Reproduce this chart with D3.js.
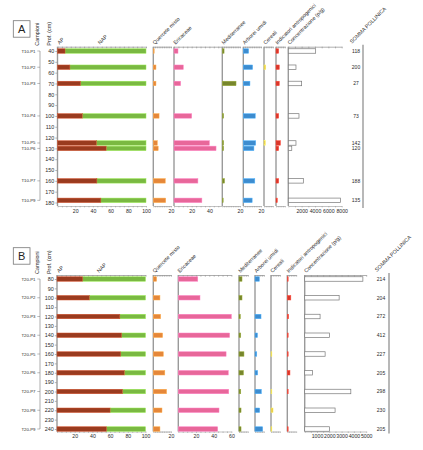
<!DOCTYPE html>
<html>
<head>
<meta charset="utf-8">
<script src="https://cdn.jsdelivr.net/npm/d3@7"></script>
<style>
  body { margin: 0; background: #fff; }
  svg { font-family: "Liberation Sans", Arial, sans-serif; }
</style>
</head>
<body>
<div id="chart"></div>
<script>
// ---- panel A (T10) ----
const samplesA = ["T10-P1", "T10-P2", "T10-P3", "T10-P4", "T10-P5", "T10-P6", "T10-P7", "T10-P9"];
const depthA = [40, 55, 70, 100, 125, 130, 160, 178];
const apA = [8.5, 14, 26, 28, 44, 55, 44.5, 49];
const quercA = [1, 3, 3, 6.5, 4.5, 5.5, 13.5, 14];
const ericA = [4.5, 10.5, 7.5, 20, 40, 47.5, 27, 31.5];
const medA = [2, 0, 15.5, 1.5, 1.5, 1.5, 2.5, 1];
const arbA = [6, 10.5, 7.5, 13.5, 14, 12, 13, 10];
const cerA = [0, 2, 0, 0, 1.5, 0, 0, 0];
const indA = [3, 3.7, 3.7, 3, 5, 3, 3, 1.5];
const concA = [4100, 1150, 2000, 1600, 1150, 520, 2250, 7800];
const sommaA = [118, 200, 27, 73, 142, 120, 188, 135];

// ---- panel B (T20) ----
const samplesB = ["T20-P1", "T20-P2", "T20-P3", "T20-P4", "T20-P5", "T20-P6", "T20-P7", "T20-P8", "T20-P9"];
const depthB = [80, 100, 120, 140, 160, 180, 200, 220, 240];
const apB = [29, 36.5, 71, 73, 72, 76, 74, 60, 56];
const quercB = [3.7, 7.5, 8.3, 10.5, 11.3, 13, 15, 9.8, 7.5];
const ericB = [22, 24.5, 60, 58, 54, 56.5, 57, 46, 44.5];
const medB = [3.4, 3.4, 1.5, 2, 5.6, 5, 2, 2.3, 2.3];
const arbB = [4.9, 0, 6.8, 2.8, 2, 3, 7.2, 5.3, 8.7];
const cerB = [0, 0, 0, 0, 1, 0, 1, 2.3, 1];
const indB = [1, 4, 1.5, 1, 1, 3, 1, 0, 1];
const concB = [4730, 2800, 1250, 2010, 1660, 625, 3750, 2470, 2010];
const sommaB = [214, 204, 272, 412, 227, 205, 298, 230, 205];

const colors = {
  ap: "#9a3b1f", nap: "#7ab942", querc: "#e5873a", eric: "#e8679a",
  med: "#77862c", arb: "#3d8ccf", cer: "#e3c24a", ind: "#d9372b"
};
const pct = 0.885;      // px per percent unit
const barH = 4.5;
const axisColor = "#9a9a9a";
const textColor = "#2a2a2a";

const svg = d3.select("#chart").append("svg")
  .attr("width", 423)
  .attr("height", 450);

const panels = [
  {
    letter: "A", samples: samplesA, depth: depthA, ap: apA, conc: concA, somma: sommaA,
    depthDomain: [40, 180], yRange: [51, 202.5], top: 46.7, bottom: 206,
    apX: 57.5, napLabelX: 100,
    cols: [
      {label: "Quercete misto", values: quercA, color: colors.querc, x0: 153.3, max: 20},
      {label: "Ericaceae", values: ericA, color: colors.eric, x0: 174, max: 54, ticks: [20, 40]},
      {label: "Mediterranee", values: medA, color: colors.med, x0: 222.3, max: 20},
      {label: "Arborei umidi", values: arbA, color: colors.arb, x0: 243.3, max: 20},
      {label: "Cereali", values: cerA, color: colors.cer, x0: 264, max: 10, ticks: []},
      {label: "Indicatori antropogenici", values: indA, color: colors.ind, x0: 276, max: 10, ticks: []}
    ],
    concX: 288.3, concMax: 8000, concW: 53.4, concTicks: [2000, 4000, 6000, 8000], concMinor: 1000,
    sommaX: 356, sommaLine: 363, boxY: 20.7
  },
  {
    letter: "B", samples: samplesB, depth: depthB, ap: apB, conc: concB, somma: sommaB,
    depthDomain: [80, 240], yRange: [279, 429], top: 275, bottom: 431.5,
    apX: 57, napLabelX: 99,
    cols: [
      {label: "Quercete misto", values: quercB, color: colors.querc, x0: 153.3, max: 20},
      {label: "Ericaceae", values: ericB, color: colors.eric, x0: 178.3, max: 60},
      {label: "Mediterranee", values: medB, color: colors.med, x0: 239, max: 10, ticks: []},
      {label: "Arborei umidi", values: arbB, color: colors.arb, x0: 255, max: 10, ticks: []},
      {label: "Cereali", values: cerB, color: colors.cer, x0: 271, max: 10, ticks: []},
      {label: "Indicatori antropogenici", values: indB, color: colors.ind, x0: 287.3, max: 10, ticks: []}
    ],
    concX: 304.7, concMax: 5000, concW: 61.5, concTicks: [1000, 2000, 3000, 4000, 5000], concMinor: 500,
    sommaX: 381, sommaLine: 389, boxY: 247.7
  }
];

panels.forEach(drawPanel);

function header(g, x, yTop, text, size = 5.3) {
  g.append("text")
    .attr("transform", `translate(${x},${yTop}) rotate(-45)`)
    .attr("font-size", size)
    .attr("fill", textColor)
    .text(text);
}

function columnAxes(g, p, x, labels, minorStep) {
  const [x0] = x.range();
  const minor = d3.range(x.domain()[0], x.domain()[1] + 1e-9, minorStep);
  // top axis: dense small ticks
  g.append("g")
    .attr("transform", `translate(0,${p.top})`)
    .call(d3.axisBottom(x).tickValues(minor).tickSize(1.6).tickFormat("").tickSizeOuter(0))
    .call(a => a.selectAll("line,path").attr("stroke", axisColor).attr("stroke-width", 0.8));
  // bottom axis with labels
  const bot = g.append("g")
    .attr("transform", `translate(0,${p.bottom})`)
    .call(d3.axisBottom(x).tickValues(minor).tickSize(1.4).tickSizeOuter(0)
      .tickFormat(d => labels.includes(d) ? d : ""));
  bot.selectAll("line,path").attr("stroke", axisColor).attr("stroke-width", 0.6);
  bot.selectAll("text").attr("font-size", 5.2).attr("fill", textColor).attr("dy", "0.45em");
  // vertical zero line
  g.append("line")
    .attr("x1", x0).attr("x2", x0)
    .attr("y1", p.top).attr("y2", p.bottom)
    .attr("stroke", axisColor).attr("stroke-width", 1.4);
}

function drawPanel(p) {
  const g = svg.append("g");
  const y = d3.scaleLinear().domain(p.depthDomain).range(p.yRange);
  const rows = p.samples.map((s, i) => ({s, d: p.depth[i], i}));

  // panel letter box
  g.append("rect")
    .attr("x", 13.3).attr("y", p.boxY).attr("width", 16.7).attr("height", 16.5)
    .attr("fill", "#fff").attr("stroke", "#777").attr("stroke-width", 0.8);
  g.append("text")
    .attr("x", 21.7).attr("y", p.boxY + 12.3)
    .attr("text-anchor", "middle").attr("font-size", 11).attr("fill", "#222")
    .text(p.letter);

  // vertical titles
  [["Campioni", 39], ["Prof. (cm)", 51]].forEach(([t, x]) => {
    g.append("text")
      .attr("transform", `translate(${x},${p.top - 1}) rotate(-90)`)
      .attr("font-size", 5.4).attr("fill", textColor)
      .text(t);
  });

  // sample labels + bracket
  g.append("line")
    .attr("x1", 40).attr("x2", 40)
    .attr("y1", y(p.depth[0])).attr("y2", y(p.depth[p.depth.length - 1]))
    .attr("stroke", "#777").attr("stroke-width", 0.6);
  g.selectAll(".sample").data(rows).join("text")
    .attr("x", 35.5).attr("y", d => y(d.d)).attr("dy", "0.35em")
    .attr("text-anchor", "end").attr("font-size", 4.3).attr("fill", textColor)
    .text(d => d.s);
  g.selectAll(".stick").data(rows).join("line")
    .attr("x1", 37.3).attr("x2", 40)
    .attr("y1", d => y(d.d)).attr("y2", d => y(d.d))
    .attr("stroke", "#777").attr("stroke-width", 0.5);

  // depth axis
  const depthTicks = d3.range(p.depthDomain[0], p.depthDomain[1] + 1, 10);
  const dAxis = g.append("g")
    .attr("transform", `translate(${p.apX},0)`)
    .call(d3.axisLeft(y).tickValues(depthTicks).tickSize(2.2).tickPadding(1).tickSizeOuter(0));
  dAxis.select(".domain").remove();
  dAxis.selectAll("line").attr("stroke", "#666").attr("stroke-width", 0.5);
  dAxis.selectAll("text").attr("font-size", 5.4).attr("fill", textColor);

  // AP / NAP
  const xap = d3.scaleLinear().domain([0, 100]).range([p.apX, p.apX + 100 * pct]);
  columnAxes(g, p, xap, [20, 40, 60, 80, 100], 5);
  g.selectAll(".nap").data(rows).join("rect")
    .attr("x", d => xap(p.ap[d.i])).attr("width", d => xap(100) - xap(p.ap[d.i]))
    .attr("y", d => y(d.d) - barH / 2).attr("height", barH)
    .attr("fill", colors.nap).attr("stroke", d3.color(colors.nap).brighter(0.7)).attr("stroke-width", 0.5);
  g.selectAll(".ap").data(rows).join("rect")
    .attr("x", xap(0)).attr("width", d => xap(p.ap[d.i]) - xap(0))
    .attr("y", d => y(d.d) - barH / 2).attr("height", barH)
    .attr("fill", colors.ap).attr("stroke", d3.color(colors.ap).brighter(0.9)).attr("stroke-width", 0.5);
  header(g, xap(0) + 2, p.top - 2, "AP");
  header(g, p.napLabelX, p.top - 2, "NAP");

  // percentage columns
  p.cols.forEach(c => {
    const x = d3.scaleLinear().domain([0, c.max]).range([c.x0, c.x0 + c.max * pct]);
    const labels = c.ticks || d3.range(20, c.max + 1e-9, 20);
    columnAxes(g, p, x, labels, c.max > 20 ? 5 : 2);
    g.selectAll(null).data(rows.filter(d => c.values[d.i] > 0)).join("rect")
      .attr("x", x(0)).attr("width", d => x(c.values[d.i]) - x(0))
      .attr("y", d => y(d.d) - barH / 2).attr("height", barH)
      .attr("fill", c.color).attr("stroke", d3.color(c.color).brighter(0.7)).attr("stroke-width", 0.5);
    header(g, c.x0 + 1.5, p.top - 2, c.label);
  });

  // concentration
  const xc = d3.scaleLinear().domain([0, p.concMax]).range([p.concX, p.concX + p.concW]);
  columnAxes(g, p, xc, p.concTicks, p.concMinor);
  g.selectAll(".conc").data(rows).join("rect")
    .attr("x", xc(0)).attr("width", d => xc(p.conc[d.i]) - xc(0))
    .attr("y", d => y(d.d) - barH / 2).attr("height", barH)
    .attr("fill", "#fff").attr("stroke", "#777").attr("stroke-width", 0.7);
  header(g, p.concX + 1.5, p.top - 2, "Concentrazione (p/g)");

  // somma pollinica
  g.append("line")
    .attr("x1", p.sommaLine).attr("x2", p.sommaLine)
    .attr("y1", p.top - 2).attr("y2", p.bottom + 2)
    .attr("stroke", axisColor).attr("stroke-width", 1.4);
  g.selectAll(".somma").data(rows).join("text")
    .attr("x", p.sommaX).attr("y", d => y(d.d)).attr("dy", "0.35em")
    .attr("text-anchor", "middle").attr("font-size", 5).attr("fill", textColor)
    .text(d => p.somma[d.i]);
  header(g, p.sommaX - 4, p.top - 3, "SOMMA POLLINICA");
}
</script>
</body>
</html>
